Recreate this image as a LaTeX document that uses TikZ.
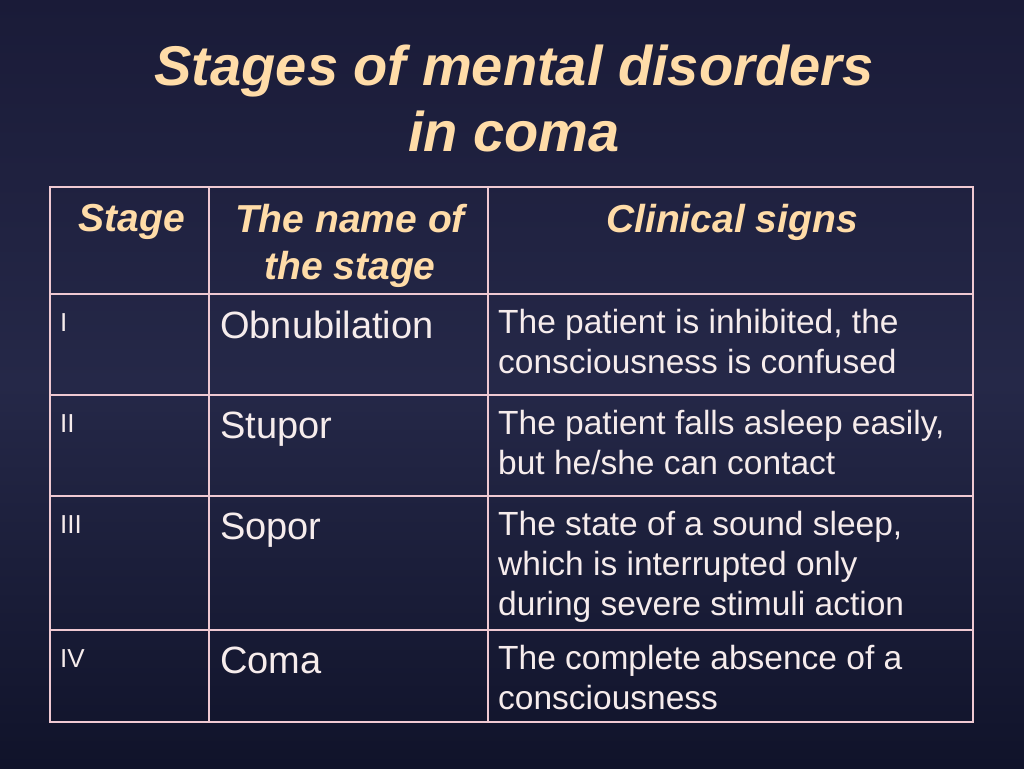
\documentclass[tikz,border=0pt]{standalone}
\usepackage{fontspec}
\setmainfont{Liberation Sans}
\definecolor{peach}{HTML}{FFDCA8}
\definecolor{txt}{HTML}{F6ECEC}
\definecolor{grid}{HTML}{EFC9D2}
\definecolor{bgtop}{HTML}{1A1B38}
\definecolor{bgmid}{HTML}{252848}
\definecolor{bgbot}{HTML}{10132A}
\begin{document}
\begin{tikzpicture}[x=1pt,y=-1pt,
  hd/.style={text=peach,font=\fontsize{39}{47}\selectfont\bfseries\itshape,align=center,anchor=north,inner sep=0pt},
  nm/.style={text=txt,font=\fontsize{38}{44}\selectfont,anchor=north west,inner sep=0pt},
  st/.style={text=txt,font=\fontsize{26}{30}\selectfont,anchor=north west,inner sep=0pt},
  sg/.style={text=txt,font=\fontsize{33.5}{40}\selectfont,anchor=north west,align=left,inner sep=0pt}]
\useasboundingbox (0,0) rectangle (1024,768);
\shade[top color=bgtop,bottom color=bgbot,middle color=bgmid] (0,0) rectangle (1024,768);
\node[text=peach,font=\fontsize{56}{66}\selectfont\bfseries\itshape,align=center] (title) at (514,98) {Stages of mental disorders\\in coma};
\draw[grid,line width=2.5pt] (50,187) rectangle (973,722);
\foreach \x in {209,488} \draw[grid,line width=2pt] (\x,187) -- (\x,722);
\foreach \y in {294,395,496,630} \draw[grid,line width=2pt] (50,\y) -- (973,\y);
\node[hd] (h1) at (132,204) {Stage};
\node[hd] (h2) at (350,204) {The name of\\the stage};
\node[hd] (h3) at (732,204) {Clinical signs};
\node[st] (s1) at (60,313) {I};
\node[st] (s2) at (60,414) {II};
\node[st] (s3) at (60,515) {III};
\node[st] (s4) at (60,649) {IV};
\node[nm] (n1) at (220,311) {Obnubilation};
\node[nm] (n2) at (220,412) {Stupor};
\node[nm] (n3) at (220,513) {Sopor};
\node[nm] (n4) at (220,647) {Coma};
\node[sg] (c1) at (498,309) {The patient is inhibited, the\\consciousness is confused};
\node[sg] (c2) at (498,410) {The patient falls asleep easily,\\but he/she can contact};
\node[sg] (c3) at (498,511) {The state of a sound sleep,\\which is interrupted only\\during severe stimuli action};
\node[sg] (c4) at (498,645) {The complete absence of a\\consciousness};
\end{tikzpicture}
\end{document}
